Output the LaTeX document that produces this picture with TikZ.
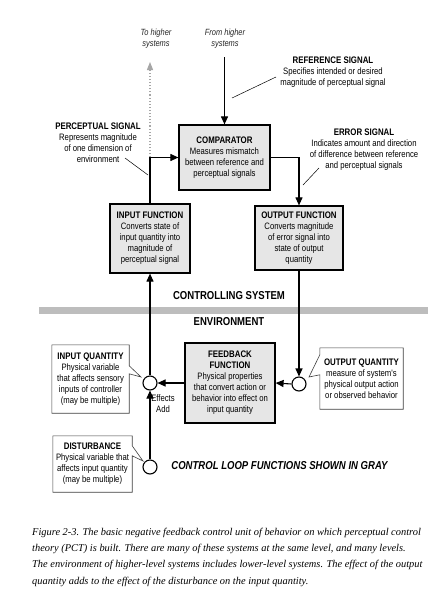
\documentclass[tikz,border=0pt]{standalone}
\usepackage{fontspec}
\setmainfont{Liberation Sans}
\newfontfamily\nar[FakeStretch=0.83]{Liberation Sans}
\newfontfamily\capfont{Liberation Serif}
\usetikzlibrary{arrows.meta,calc}
\definecolor{boxgray}{HTML}{E6E6E6}
\definecolor{bandgray}{HTML}{BDBDBD}
\newcommand\boxttl[1]{{\bfseries\fontsize{9.5}{11}\selectfont #1}}
\begin{document}
\begin{tikzpicture}[x=1pt,y=-1pt,
  txt/.style={font=\nar\fontsize{9.3}{11}\selectfont, align=center, inner sep=0pt},
  mainbox/.style={txt, draw=black, line width=1.2pt, fill=boxgray},
  cbox/.style={draw=black!75, line width=0.6pt},
  arr/.style={line width=1.1pt, -{Triangle[length=8pt,width=7pt]}},
  grayarr/.style={line width=1.1pt, black!35, dotted, -{Triangle[length=8pt,width=6pt]}},
  ptr/.style={line width=0.5pt},
  bigl/.style={font=\nar\bfseries\fontsize{11.5}{13}\selectfont, inner sep=0pt},
  circ/.style={circle, draw=black, line width=1.1pt, fill=white, minimum size=14pt, inner sep=0pt},
]
\useasboundingbox (0,0) rectangle (431,595);
\fill[white] (0,0) rectangle (431,595);

% band
\fill[bandgray] (39,307) rectangle (428,314);
\node[bigl] (ctrl) at (229,296) {CONTROLLING SYSTEM};
\node[bigl] (env) at (229,322) {ENVIRONMENT};

% top texts
\node[txt, font=\nar\itshape\fontsize{9}{11}\selectfont, text=black!85] (toh) at (156,39) {To higher\\systems};
\node[txt, font=\nar\itshape\fontsize{9}{11}\selectfont, text=black!85] (fromh) at (225,39) {From higher\\systems};

% main boxes
\node[mainbox, minimum width=91pt, minimum height=65pt] (comp) at (224.5,157.5)
  {\boxttl{COMPARATOR}\\Measures mismatch\\between reference and\\perceptual signals};
\node[mainbox, minimum width=80pt, minimum height=69pt] (inf) at (150,238.5)
  {\boxttl{INPUT FUNCTION}\\Converts state of\\input quantity into\\magnitude of\\perceptual signal};
\node[mainbox, minimum width=88pt, minimum height=64pt] (outf) at (299,238)
  {\boxttl{OUTPUT FUNCTION}\\Converts magnitude\\of error signal into\\state of output\\quantity};
\node[mainbox, minimum width=90pt, minimum height=80pt] (fb) at (230,383)
  {\boxttl{FEEDBACK}\\\boxttl{FUNCTION}\\Physical properties\\that convert action or\\behavior into effect on\\input quantity};

% labels
\node[txt] (refl) at (333,72.5)
  {\boxttl{REFERENCE SIGNAL}\\Specifies intended or desired\\magnitude of perceptual signal};
\node[txt] (perl) at (98,142.5)
  {\boxttl{PERCEPTUAL SIGNAL}\\Represents magnitude\\of one dimension of\\environment};
\node[txt] (errl) at (364,150)
  {\boxttl{ERROR SIGNAL}\\Indicates amount and direction\\of difference between reference\\and perceptual signals};

% circles
\node[circ] (ic) at (150,383) {};
\node[circ] (dc) at (150,467) {};
\node[circ] (oc) at (299,384) {};

% callout boxes
\node[txt, minimum width=77pt, minimum height=68pt] (iq) at (90.5,379)
  {\boxttl{INPUT QUANTITY}\\Physical variable\\that affects sensory\\inputs of controller\\(may be multiple)};
\node[txt, minimum width=79pt, minimum height=56pt] (dist) at (92.5,464)
  {\boxttl{DISTURBANCE}\\Physical variable that\\affects input quantity\\(may be multiple)};
\node[txt, minimum width=83pt, minimum height=61pt] (oq) at (361.5,378.5)
  {\boxttl{OUTPUT QUANTITY}\\measure of system's\\physical output action\\or observed behavior};
\coordinate (iqtip) at (141,377);
\coordinate (dtip) at (143,461);
\coordinate (oqtip) at (309,377);
\draw[cbox] (iq.north west) -- (iq.north east) -- ($(iq.north east)+(0,21)$) -- (iqtip)
  -- ($(iq.north east)+(0,29)$) -- (iq.south east) -- (iq.south west) -- cycle;
\draw[cbox] (dist.north west) -- (dist.north east) -- ($(dist.north east)+(0,10)$) -- (dtip)
  -- ($(dist.north east)+(0,20)$) -- (dist.south east) -- (dist.south west) -- cycle;
\draw[cbox] (oq.north east) -- (oq.north west) -- ($(oq.north west)+(0,7)$) -- (oqtip)
  -- ($(oq.north west)+(0,27)$) -- (oq.south west) -- (oq.south east) -- cycle;

\node[txt] (eff) at (163,404) {Effects\\Add};
\node[font=\nar\bfseries\itshape\fontsize{11.5}{13}\selectfont, inner sep=0pt] (gray) at (279.5,466)
  {CONTROL LOOP FUNCTIONS SHOWN IN GRAY};

% connectors
\coordinate (pj) at (inf.north |- comp.west);
\coordinate (tohtip) at (150,62);
\coordinate (fromst) at (224.5,57);
\draw[grayarr] (pj) -- (tohtip);
\draw[arr] (fromst) -- (comp.north);
\draw[arr] (inf.north) |- (comp.west);
\draw[arr] (comp.east) -| (outf.north);
\draw[arr] (outf.south) -- (oc.north);
\draw[arr] (oc.west) -- (fb.east);
\draw[arr] (fb.west) -- (ic.east);
\draw[arr] (ic.north) -- (inf.south);
\draw[arr] (dc.north) -- (ic.south);

% label pointers
\coordinate (rp1) at (276,77); \coordinate (rp2) at (232,98);
\coordinate (pp1) at (125,158); \coordinate (pp2) at (148,175);
\coordinate (ep1) at (319,168); \coordinate (ep2) at (303,185);
\draw[ptr] (rp1) -- (rp2);
\draw[ptr] (pp1) -- (pp2);
\draw[ptr] (ep1) -- (ep2);

% caption
\node[anchor=north west, align=left, inner sep=0pt,
  font=\capfont\itshape\fontsize{10.4}{16.2}\selectfont] (cap) at (32,528)
  {Figure 2-3. The basic negative feedback control unit of behavior on which perceptual control\\
   theory (PCT) is built. There are many of these systems at the same level, and many levels.\\
   The environment of higher-level systems includes lower-level systems. The effect of the output\\
   quantity adds to the effect of the disturbance on the input quantity.};
\end{tikzpicture}
\end{document}
